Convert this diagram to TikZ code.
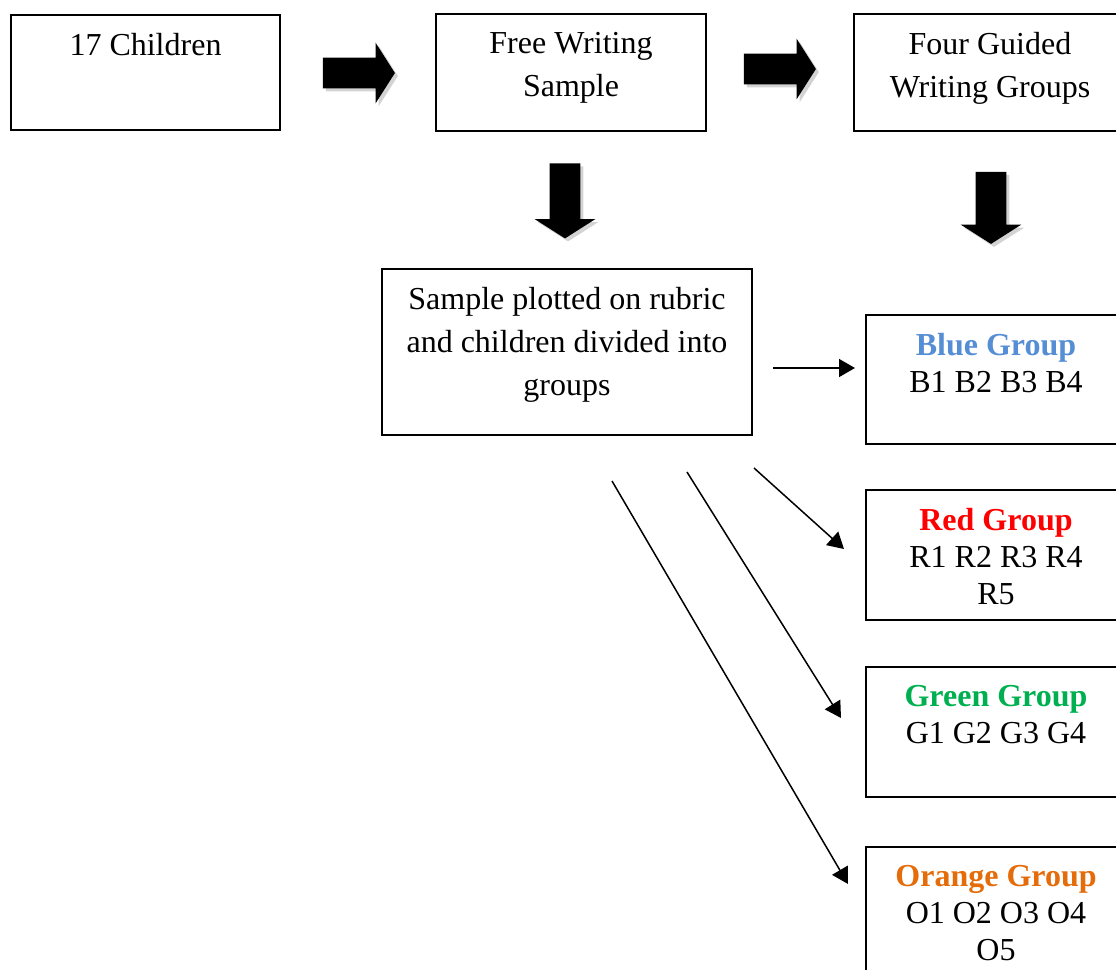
\documentclass[tikz,border=0pt]{standalone}
\usepackage{fontspec}
\setmainfont{Liberation Serif}
\usetikzlibrary{positioning, arrows.meta, shapes.arrows, shadows}
\definecolor{bluegrp}{RGB}{85,142,213}
\definecolor{redgrp}{RGB}{255,0,0}
\definecolor{greengrp}{RGB}{0,176,80}
\definecolor{orangegrp}{RGB}{228,108,10}

\tikzset{
  stage/.style={draw, line width=1pt, anchor=north west, inner sep=0pt},
  stagetext/.style={inner sep=0pt, align=center, font=\fontsize{16}{21.5}\selectfont},
  grouptext/.style={inner sep=0pt, align=center, font=\fontsize{16}{18.5}\selectfont},
  bigarrow/.style={single arrow, fill=black, inner xsep=0pt, inner ysep=7.5pt,
    single arrow head extend=7.5pt, single arrow tip angle=115,
    single arrow head indent=0pt,
    drop shadow={shadow xshift=1.5pt, shadow yshift=-1.5pt, opacity=0.35}},
  downarrow/.style={bigarrow, shape border rotate=270, inner xsep=7.5pt, inner ysep=0pt},
  thinarrow/.style={-{Triangle[length=8pt,width=9pt]}, line width=0.75pt}
}

\begin{document}
\begin{tikzpicture}[x=0.5pt,y=-0.5pt]
\path[use as bounding box, clip] (0,0) rectangle (1116,970);

\node[stage, minimum width=134.5pt, minimum height=57.5pt] (kids) at (10,14) {};
\node[stage, minimum width=135pt, minimum height=58.5pt] (sample) at (435,13) {};
\node[stage, minimum width=136pt, minimum height=58.5pt] (guided) at (853,13) {};
\node[stage, minimum width=185pt, minimum height=83pt] (rubric) at (381,268) {};
\node[stage, minimum width=130pt, minimum height=64.5pt] (blue) at (865,314) {};
\node[stage, minimum width=130pt, minimum height=65pt] (red) at (865,489) {};
\node[stage, minimum width=130pt, minimum height=65pt] (green) at (865,666) {};
\node[stage, minimum width=130pt, minimum height=70pt] (orange) at (865,846) {};

\node[stagetext, below=9.5pt of kids.north] (kids-t) {17 Children};
\node[stagetext, below=9.5pt of sample.north] (sample-t) {Free Writing\\Sample};
\node[stagetext, below=9.5pt of guided.north] (guided-t) {Four Guided\\Writing Groups};
\node[stagetext, below=9.5pt of rubric.north] (rubric-t) {Sample plotted on rubric\\and children divided into\\groups};
\node[grouptext, below=9.5pt of blue.north] (blue-t) {\textcolor{bluegrp}{\textbf{Blue Group}}\\B1 B2 B3 B4};
\node[grouptext, below=9.5pt of red.north] (red-t) {\textcolor{redgrp}{\textbf{Red Group}}\\R1 R2 R3 R4\\R5};
\node[grouptext, below=9.5pt of green.north] (green-t) {\textcolor{greengrp}{\textbf{Green Group}}\\G1 G2 G3 G4};
\node[grouptext, below=9.5pt of orange.north] (orange-t) {\textcolor{orangegrp}{\textbf{Orange Group}}\\O1 O2 O3 O4\\O5};

\node[bigarrow, minimum height=36pt] (right-a) at (354,73) {};
\node[bigarrow, minimum height=36pt] (right-b) at (775,69) {};
\node[downarrow, minimum height=37.5pt] (down-a) at (565,196) {};
\node[downarrow, minimum height=36pt] (down-b) at (991,203) {};

\coordinate (blue-from) at (773,368);
\coordinate (blue-to) at (855,368);
\coordinate (red-from) at (754,468);
\coordinate (red-to) at (844,549);
\coordinate (green-from) at (687,472);
\coordinate (green-to) at (841,718);
\coordinate (orange-from) at (612,481);
\coordinate (orange-to) at (848,884);

\draw[thinarrow] (blue-from) -- (blue-to);
\draw[thinarrow] (red-from) -- (red-to);
\draw[thinarrow] (green-from) -- (green-to);
\draw[thinarrow] (orange-from) -- (orange-to);
\end{tikzpicture}
\end{document}
